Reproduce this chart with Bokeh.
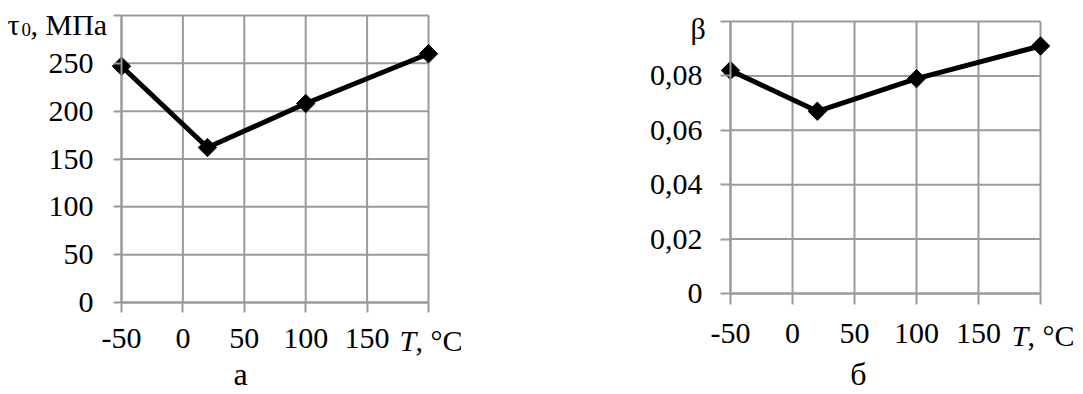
import math
from bokeh.plotting import figure
from bokeh.layouts import row
from bokeh.models import Range1d, FixedTicker, Label
from bokeh.embed import file_html
from bokeh.resources import INLINE

# ---- data ----
T = [-50, 20, 100, 200]
tau0 = [247, 162, 208, 260]
beta = [0.082, 0.067, 0.079, 0.091]

x_ticks = [-50, 0, 50, 100, 150, 200]
x_tick_labels = ["-50", "0", "50", "100", "150", ""]
tau_ticks = [0, 50, 100, 150, 200, 250, 300]
tau_tick_labels = ["0", "50", "100", "150", "200", "250", ""]
beta_ticks = [0, 0.02, 0.04, 0.06, 0.08, 0.1]
beta_tick_labels = ["0", "0,02", "0,04", "0,06", "0,08", ""]

# ---- style / layout ----
FONT = "Liberation Serif"
GRID = "#9a9a9a"
FS = "30px"
H = 394


def rng(v0, p0, v1, p1, size, flip=False):
    """range whose values v0, v1 land on pixels p0, p1 of a frame of given size"""
    k = (p1 - p0) / (v1 - v0)
    if flip:  # screen y grows downward
        return (v0 - (size - p0) / (-k), v0 + p0 / (-k))
    return (v0 - p0 / k, v0 + (size - p0) / k)


def panel(width, xr, yr, yticks, ylabels, ydata, tick_out_y, tick_out_x,
          ystand, xstand):
    p = figure(width=width, height=H, output_backend="svg", toolbar_location=None,
               title=None, x_range=Range1d(*xr), y_range=Range1d(*yr),
               min_border=0)
    p.outline_line_color = None
    p.grid.visible = False
    p.background_fill_color = "white"
    p.border_fill_color = "white"

    n = len(x_ticks)
    m = len(yticks)
    p.segment(x0=x_ticks, y0=[yticks[0]] * n, x1=x_ticks, y1=[yticks[-1]] * n,
              line_color=GRID, line_width=2)
    p.segment(x0=[x_ticks[0]] * m, y0=yticks, x1=[x_ticks[-1]] * m, y1=yticks,
              line_color=GRID, line_width=2)

    p.line(T, ydata, line_color="black", line_width=5, line_join="round")
    p.scatter(T, ydata, marker="square", angle=math.pi / 4, size=13,
              fill_color="black", line_color="black")

    xa = p.xaxis[0]
    xa.fixed_location = yticks[0]
    xa.bounds = (x_ticks[0], x_ticks[-1])
    xa.ticker = FixedTicker(ticks=x_ticks)
    xa.major_label_overrides = {t: s for t, s in zip(x_ticks, x_tick_labels)}
    ya = p.yaxis[0]
    ya.fixed_location = x_ticks[0]
    ya.bounds = (yticks[0], yticks[-1])
    ya.ticker = FixedTicker(ticks=yticks)
    ya.major_label_overrides = {t: s for t, s in zip(yticks, ylabels)}
    for ax, tout, st in ((xa, tick_out_x, xstand), (ya, tick_out_y, ystand)):
        ax.axis_line_color = GRID
        ax.axis_line_width = 2
        ax.major_tick_line_color = GRID
        ax.major_tick_line_width = 2
        ax.major_tick_in = 0
        ax.major_tick_out = tout
        ax.minor_tick_line_color = None
        ax.major_label_standoff = st
        ax.major_label_text_font = FONT
        ax.major_label_text_font_size = FS
        ax.major_label_text_color = "black"
    return p


def lab(p, x, y, text, dx, dy, size=FS, style="normal", align="left"):
    p.add_layout(Label(x=x, y=y, x_units="data", y_units="data", text=text,
                       x_offset=dx, y_offset=dy, text_font=FONT,
                       text_font_size=size, text_font_style=style,
                       text_color="black", text_align=align,
                       text_baseline="alphabetic"))


W1, W2 = 560, 523

# left panel: tau0   (x=-50 -> px 121, x=200 -> px 428; y=0 -> px 302, y=300 -> px 15)
p1 = panel(W1, rng(x_ticks[0], 121, x_ticks[-1], 428, W1),
           rng(tau_ticks[0], 302, tau_ticks[-1], 15, H, flip=True),
           tau_ticks, tau_tick_labels, tau0, 8, 10, 20, 16)
lab(p1, x_ticks[0], tau_ticks[-1], "τ", -114, -9)
lab(p1, x_ticks[0], tau_ticks[-1], "0", -100, -14, size="19px")
lab(p1, x_ticks[0], tau_ticks[-1], ", МПа", -91, -9)
lab(p1, x_ticks[-1], tau_ticks[0], "T", -29, -38, style="italic")
lab(p1, x_ticks[-1], tau_ticks[0], ", °C", -13, -38)
lab(p1, x_ticks[0], tau_ticks[0], "а", 119, -71, size="32px", align="center")

# right panel: beta  (x=-50 -> px 170, x=200 -> px 480; y=0 -> px 293, y=0.1 -> px 21)
p2 = panel(W2, rng(x_ticks[0], 170, x_ticks[-1], 480, W2),
           rng(beta_ticks[0], 293, beta_ticks[-1], 21, H, flip=True),
           beta_ticks, beta_tick_labels, beta, 10, 11, 18, 19)
lab(p2, x_ticks[0], beta_ticks[-1], "β", -40, -7)
lab(p2, x_ticks[-1], beta_ticks[0], "T", -29, -42, style="italic")
lab(p2, x_ticks[-1], beta_ticks[0], ", °C", -13, -42)
lab(p2, x_ticks[0], beta_ticks[0], "б", 128, -80, size="32px", align="center")

layout = row(p1, p2)
open("out.html", "w").write(file_html(layout, INLINE))
